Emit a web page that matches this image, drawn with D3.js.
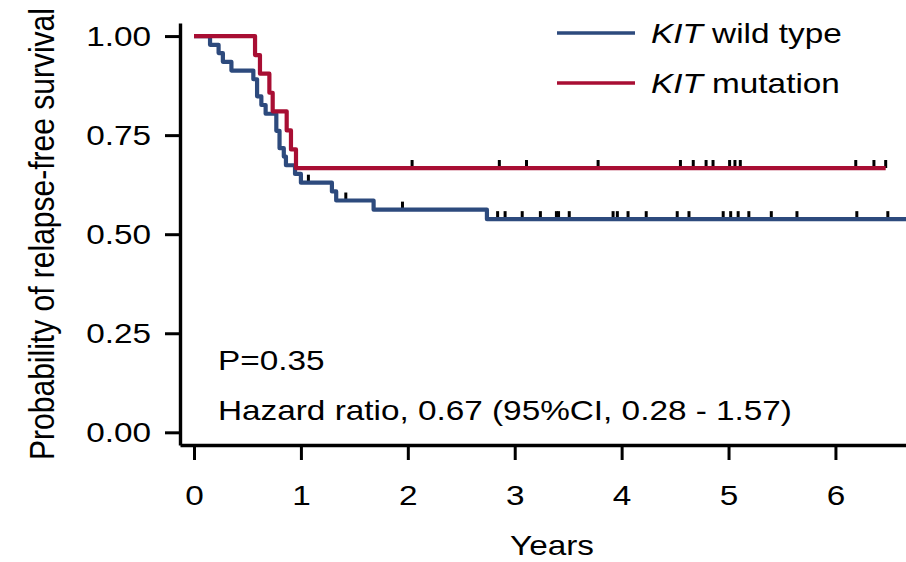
<!DOCTYPE html>
<html>
<head>
<meta charset="utf-8">
<script src="https://cdn.jsdelivr.net/npm/d3@7"></script>
<style>
  html, body { margin: 0; padding: 0; background: #fff; }
  svg { display: block; font-family: "Liberation Sans", Arial, Helvetica, sans-serif; }
</style>
</head>
<body>
<svg id="chart" width="906" height="562"></svg>
<script>
// Kaplan–Meier relapse-free survival by KIT status
// Step curves: time (years) at which the curve drops, and survival after the drop
const wildStepTimes = [0.15, 0.23, 0.27, 0.35, 0.555, 0.59, 0.63, 0.67, 0.77, 0.80, 0.84, 0.86, 0.945, 1.00, 1.29, 1.33, 1.68, 2.74];
const wildStepSurv  = [0.978, 0.957, 0.935, 0.913, 0.891, 0.848, 0.826, 0.804, 0.761, 0.717, 0.696, 0.674, 0.652, 0.630, 0.608, 0.585, 0.562, 0.538];
const wildCensored  = [1.07, 1.42, 1.95, 2.84, 2.91, 3.07, 3.24, 3.39, 3.41, 3.51, 3.92, 3.96, 4.06, 4.23, 4.52, 4.63, 4.95, 5.02, 5.09, 5.19, 5.40, 5.64, 6.20, 6.49, 6.75];
const wildLastTime  = 6.75;

const mutStepTimes = [0.571, 0.617, 0.705, 0.736, 0.867, 0.907, 0.954];
const mutStepSurv  = [0.952, 0.905, 0.857, 0.810, 0.762, 0.714, 0.667];
const mutCensored  = [2.04, 2.856, 3.11, 3.78, 4.55, 4.67, 4.79, 4.855, 5.01, 5.06, 5.11, 6.19, 6.36, 6.47];
const mutLastTime  = 6.47;

const xTicks = [0, 1, 2, 3, 4, 5, 6];
const yTicks = [0, 0.25, 0.5, 0.75, 1];
const legendLabels = ["wild type", "mutation"];
const annotations = ["P=0.35", "Hazard ratio, 0.67 (95%CI, 0.28 - 1.57)"];

const blue = "#2d4a7d";
const red = "#a80e33";
const SX = 1.19;   // horizontal text stretch
const FS = 28;

const svg = d3.select("#chart");
const x = d3.scaleLinear().domain([-0.131, 6.66]).range([180, 906]);
const y = d3.scaleLinear().domain([-0.032, 1.033]).range([445, 23]);

svg.append("defs").append("clipPath").attr("id", "plotclip")
  .append("rect").attr("x", 178).attr("y", 0).attr("width", 728).attr("height", 450);

// Axes
const yAxis = svg.append("g").attr("transform", "translate(180,0)")
  .call(d3.axisLeft(y).tickValues(yTicks).tickFormat(d3.format(".2f")).tickSize(15).tickSizeOuter(0).tickPadding(14));
const xAxis = svg.append("g").attr("transform", "translate(0,445)")
  .call(d3.axisBottom(x).tickValues(xTicks).tickFormat(d3.format("d")).tickSize(15).tickSizeOuter(0).tickPadding(25));

[yAxis, xAxis].forEach(g => {
  g.attr("font-family", null).attr("font-size", FS);
  g.select(".domain").attr("stroke", "#000").attr("stroke-width", 3.4);
  g.selectAll(".tick line").attr("stroke", "#000").attr("stroke-width", 3);
  g.selectAll(".tick text").attr("fill", "#000");
});
yAxis.selectAll(".tick text").each(function () {
  const t = d3.select(this);
  const tx = +t.attr("x");
  t.attr("x", 0).attr("transform", `translate(${tx},0) scale(${SX},1)`);
});
xAxis.selectAll(".tick text").attr("transform", `scale(${SX},1)`);

// Axis titles
svg.append("text")
  .attr("transform", `translate(552,555) scale(${SX},1)`)
  .attr("text-anchor", "middle").attr("font-size", FS).text("Years");
svg.append("text")
  .attr("transform", `translate(54,234) scale(${SX},1) rotate(-90)`)
  .attr("text-anchor", "middle").attr("font-size", 30).text("Probability of relapse-free survival");

// Curves
function stepPoints(times, surv, last) {
  const pts = [[0, 1]];
  times.forEach((t, i) => pts.push([t, surv[i]]));
  pts.push([last, surv[surv.length - 1]]);
  return pts;
}
function survAt(times, surv, t) {
  const i = d3.bisectRight(times, t);
  return i === 0 ? 1 : surv[i - 1];
}
const line = d3.line().x(d => x(d[0])).y(d => y(d[1])).curve(d3.curveStepAfter);
const plot = svg.append("g").attr("clip-path", "url(#plotclip)");

const groups = [
  { times: wildStepTimes, surv: wildStepSurv, cens: wildCensored, last: wildLastTime, color: blue },
  { times: mutStepTimes, surv: mutStepSurv, cens: mutCensored, last: mutLastTime, color: red }
];
groups.forEach(g => {
  plot.append("g").selectAll("line").data(g.cens).join("line")
    .attr("x1", d => x(d)).attr("x2", d => x(d))
    .attr("y1", d => y(survAt(g.times, g.surv, d)) - 8)
    .attr("y2", d => y(survAt(g.times, g.surv, d)))
    .attr("stroke", "#000").attr("stroke-width", 3);
});
groups.forEach(g => {
  plot.append("path").datum(stepPoints(g.times, g.surv, g.last))
    .attr("d", line).attr("fill", "none")
    .attr("stroke", g.color).attr("stroke-width", 4.2)
    .attr("stroke-linejoin", "round");
});

// Legend
const legend = svg.append("g");
[blue, red].forEach((c, i) => {
  const ly = 33 + i * 50;
  legend.append("line").attr("x1", 557).attr("x2", 635).attr("y1", ly).attr("y2", ly)
    .attr("stroke", c).attr("stroke-width", 3.5);
  const t = legend.append("text")
    .attr("transform", `translate(651,${ly + 10}) scale(${SX},1)`)
    .attr("font-size", FS);
  t.append("tspan").attr("font-style", "italic").text("KIT");
  t.append("tspan").text(" " + legendLabels[i]);
});

// Test annotations
annotations.forEach((s, i) => {
  svg.append("text")
    .attr("transform", `translate(218,${370 + i * 50}) scale(${SX},1)`)
    .attr("font-size", FS).text(s);
});
</script>
</body>
</html>
